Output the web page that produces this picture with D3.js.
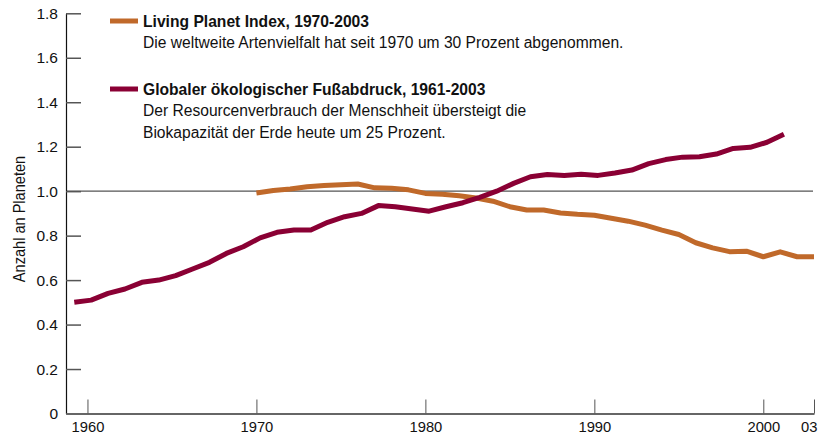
<!DOCTYPE html>
<html>
<head>
<meta charset="utf-8">
<script src="https://cdn.jsdelivr.net/npm/d3@7"></script>
<style>
  html, body { margin: 0; padding: 0; background: #fff; }
  svg { display: block; font-family: "Liberation Sans", Arial, Helvetica, sans-serif; }
  .axis text { fill: #111; }
  .legend-title { font-size: 17px; font-weight: bold; fill: #111; }
  .legend-text { font-size: 16px; fill: #111; }
</style>
</head>
<body>
<svg id="chart" width="822" height="439"></svg>
<script>
"use strict";

// Living Planet Index, 1970-2003
var lpiYears = d3.range(1970, 2004);
var lpiValues = [0.992, 1.003, 1.01, 1.02, 1.025, 1.029, 1.032, 1.015, 1.013, 1.006,
                 0.99, 0.986, 0.979, 0.969, 0.955, 0.93, 0.915, 0.915, 0.902, 0.896,
                 0.892, 0.878, 0.865, 0.847, 0.825, 0.805, 0.768, 0.745, 0.728, 0.73,
                 0.705, 0.727, 0.705, 0.705];

// Globaler ökologischer Fußabdruck, 1961-2003
var footprintYears = d3.range(1961, 2004);
var footprintValues = [0.50, 0.51, 0.54, 0.56, 0.59, 0.60, 0.62, 0.65, 0.68, 0.72,
                       0.75, 0.79, 0.815, 0.825, 0.825, 0.86, 0.885, 0.90, 0.935, 0.93,
                       0.92, 0.91, 0.93, 0.948, 0.972, 1.00, 1.035, 1.065, 1.075, 1.071,
                       1.076, 1.071, 1.082, 1.095, 1.124, 1.142, 1.153, 1.155, 1.167, 1.192,
                       1.197, 1.22, 1.256];
// in der Vorlage ist die Fußabdruck-Kurve um knapp zwei Jahre nach links versetzt
var footprintShift = -1.78;

var xTicks = [1960, 1970, 1980, 1990, 2000, 2003];
var yTicks = [0, 0.2, 0.4, 0.6, 0.8, 1.0, 1.2, 1.4, 1.6, 1.8];

var legendEntries = [
    { color: "#c0692a", title: "Living Planet Index, 1970-2003",
      lines: ["Die weltweite Artenvielfalt hat seit 1970 um 30 Prozent abgenommen."] },
    { color: "#8a0034", title: "Globaler ökologischer Fußabdruck, 1961-2003",
      lines: ["Der Resourcenverbrauch der Menschheit übersteigt die",
              "Biokapazität der Erde heute um 25 Prozent."] }
];

var svg = d3.select("#chart");

var x = d3.scaleLinear().domain([1958.73, 2003]).range([66, 814]);
var y = d3.scaleLinear().domain([0, 1.8]).range([413.5, 13.3]);

/**
 * Schmalere Schrift nachahmen (die Vorlage nutzt einen Condensed-Schnitt).
 */
function condense(sel, factor) {
    sel.each(function () {
        var len = this.getComputedTextLength();
        d3.select(this).attr("textLength", len * factor).attr("lengthAdjust", "spacingAndGlyphs");
    });
}

// Referenzlinie bei 1 Planet
svg.append("line")
    .attr("x1", x.range()[0]).attr("x2", x.range()[1] - 1)
    .attr("y1", y(1)).attr("y2", y(1))
    .attr("stroke", "#555").attr("stroke-width", 1.2);

// y-Achse
var yAxis = svg.append("g")
    .attr("class", "axis")
    .attr("transform", "translate(" + x.range()[0] + ",0)")
    .call(d3.axisLeft(y).tickValues(yTicks).tickSize(-15).tickSizeOuter(0).tickPadding(8)
        .tickFormat(function (d) { return d === 0 ? "0" : d3.format(".1f")(d); }));
yAxis.select(".domain").attr("stroke", "#111").attr("stroke-width", 1.2);
yAxis.selectAll(".tick line").attr("stroke", "#555").attr("stroke-width", 1.5);
yAxis.selectAll("text").attr("font-size", 15.5).attr("font-family", "Liberation Sans, Arial, sans-serif");

// x-Achse
var xAxis = svg.append("g")
    .attr("class", "axis")
    .attr("transform", "translate(0," + y(0) + ")")
    .call(d3.axisBottom(x).tickValues(xTicks).tickSize(-14).tickSizeOuter(0).tickPadding(7)
        .tickFormat(function (d) { return d === 2003 ? "03" : String(d); }));
xAxis.select(".domain").attr("stroke", "#666").attr("stroke-width", 2);
xAxis.selectAll(".tick line").attr("stroke", "#555").attr("stroke-width", 1);
xAxis.selectAll("text").attr("font-size", 15.5).attr("font-family", "Liberation Sans, Arial, sans-serif");
xAxis.selectAll(".tick text")
    .filter(function (d) { return d === 2003; })
    .attr("text-anchor", "end")
    .attr("dx", 3);
condense(xAxis.selectAll("text"), 0.95);

// Achsentitel
var yTitle = svg.append("text")
    .attr("transform", "translate(25," + 219 + ") rotate(-90)")
    .attr("text-anchor", "middle")
    .attr("font-size", 16)
    .attr("fill", "#111")
    .text("Anzahl an Planeten");
condense(yTitle, 0.91);

// Kurven
var line = d3.line()
    .x(function (d) { return x(d.year); })
    .y(function (d) { return y(d.value); });

var lpi = lpiYears.map(function (yr, i) { return { year: yr, value: lpiValues[i] }; });
var footprint = footprintYears.map(function (yr, i) { return { year: yr + footprintShift, value: footprintValues[i] }; });

svg.append("path")
    .datum(lpi)
    .attr("d", line)
    .attr("fill", "none")
    .attr("stroke", legendEntries[0].color)
    .attr("stroke-width", 5)
    .attr("stroke-linejoin", "round");

svg.append("path")
    .datum(footprint)
    .attr("d", line)
    .attr("fill", "none")
    .attr("stroke", legendEntries[1].color)
    .attr("stroke-width", 5)
    .attr("stroke-linejoin", "round");

// Legende
var legendTop = [21, 89];
var legend = svg.selectAll("g.legend")
    .data(legendEntries)
    .enter().append("g")
    .attr("class", "legend")
    .attr("transform", function (d, i) { return "translate(110," + legendTop[i] + ")"; });

legend.append("line")
    .attr("x1", 0).attr("x2", 28)
    .attr("y1", 0).attr("y2", 0)
    .attr("stroke", function (d) { return d.color; })
    .attr("stroke-width", 5);

var titles = legend.append("text")
    .attr("class", "legend-title")
    .attr("x", 33).attr("y", 6)
    .text(function (d) { return d.title; });
condense(titles, 0.92);

var bodies = legend.selectAll("text.legend-text")
    .data(function (d) { return d.lines; })
    .enter().append("text")
    .attr("class", "legend-text")
    .attr("x", 33)
    .attr("y", function (d, i) { return 27 + i * 22; })
    .text(function (d) { return d; });
condense(bodies, 0.975);
</script>
</body>
</html>
